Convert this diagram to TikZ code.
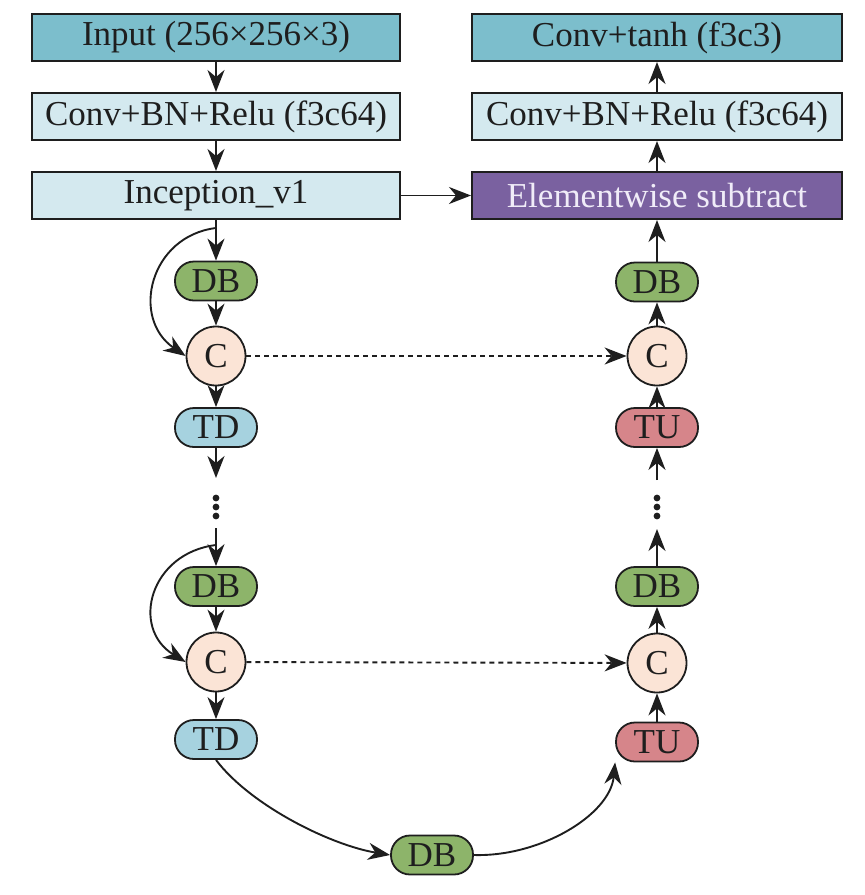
\documentclass[tikz,border=0pt]{standalone}
\usepackage{fontspec}
\setmainfont{Liberation Serif}
\usetikzlibrary{arrows.meta}
\definecolor{topbox}{RGB}{124,190,204}
\definecolor{lightbox}{RGB}{212,233,239}
\definecolor{subbox}{RGB}{122,97,160}
\definecolor{subtext}{RGB}{240,236,248}
\definecolor{dbcol}{RGB}{141,180,106}
\definecolor{ccol}{RGB}{251,228,214}
\definecolor{tdcol}{RGB}{166,210,223}
\definecolor{tucol}{RGB}{214,133,138}
\definecolor{ink}{RGB}{30,30,30}
\begin{document}
\begin{tikzpicture}[x=0.5pt,y=-0.5pt,
  every node/.style={font=\fontsize{17.5}{20}\selectfont, text=ink},
  box/.style={draw=ink, line width=1pt, minimum height=23.5pt, inner sep=0pt},
  lbox/.style={box, minimum width=184pt},
  rbox/.style={box, minimum width=185pt},
  pill/.style={draw=ink, line width=0.9pt, rounded corners=9.5pt, minimum width=41pt, minimum height=19.5pt, inner sep=0pt, font=\fontsize{17.5}{20}\selectfont},
  cnode/.style={draw=ink, line width=0.9pt, circle, fill=ccol, minimum size=29.5pt, inner sep=0pt, font=\fontsize{17.5}{20}\selectfont},
  conn/.style={draw=ink, line width=0.95pt, -{Stealth[length=11pt,width=8.5pt,inset=3.5pt]}},
  dconn/.style={conn, dash pattern=on 2.5pt off 2pt},
  dotc/.style={fill=ink}
]
\useasboundingbox (0,0) rectangle (864,895);
% left top boxes
\node[lbox, fill=topbox] (inp) at (216,37.5) {Input (256\texttimes256\texttimes3)};
\node[lbox, fill=lightbox] (cbl) at (216,116.5) {Conv+BN+Relu (f3c64)};
\node[lbox, fill=lightbox] (inc) at (216,195.5) {Inception\_v1};
% right top boxes
\node[rbox, fill=topbox] (tanh) at (657,37.5) {Conv+tanh (f3c3)};
\node[rbox, fill=lightbox] (cbr) at (657,116.5) {Conv+BN+Relu (f3c64)};
\node[rbox, fill=subbox, text=subtext] (sub) at (657,195.5) {Elementwise subtract};
% left column
\node[pill, fill=dbcol] (db1) at (216,281) {DB};
\node[cnode] (c1) at (216,356) {C};
\node[pill, fill=tdcol] (td1) at (216,427.5) {TD};
\node[pill, fill=dbcol] (db2) at (216,586.5) {DB};
\node[cnode] (c2) at (216,662) {C};
\node[pill, fill=tdcol] (td2) at (216,739.5) {TD};
% right column
\node[pill, fill=dbcol] (rdb1) at (657,282) {DB};
\node[cnode] (rc1) at (657,356) {C};
\node[pill, fill=tucol] (tu1) at (657,427.5) {TU};
\node[pill, fill=dbcol] (rdb2) at (657,586.5) {DB};
\node[cnode] (rc2) at (657,663) {C};
\node[pill, fill=tucol] (tu2) at (657,742) {TU};
% bottom
\node[pill, fill=dbcol] (bdb) at (432,855) {DB};
% coordinates
\coordinate (s1) at (216,228);
\coordinate (s2) at (216,545);
\coordinate (la) at (216,478);
\coordinate (lb) at (216,528);
\coordinate (ra) at (657,480);
\coordinate (rb) at (657,529);
% dots
\foreach \yy in {498,507,516}{
  \fill[dotc] (216,\yy) circle (1.7pt);
  \fill[dotc] (657,\yy) circle (1.7pt);
}
% left connectors
\draw[conn] (inp) -- (cbl);
\draw[conn] (cbl) -- (inc);
\draw[conn] (inc) -- (db1);
\draw[conn] (db1) -- (c1);
\draw[conn] (c1) -- (td1);
\draw[conn] (td1) -- (la);
\draw[conn] (lb) -- (db2);
\draw[conn] (db2) -- (c2);
\draw[conn] (c2) -- (td2);
\draw[conn] (s1) .. controls (150,236) and (130,318) .. (c1.west);
\draw[conn] (s2) .. controls (150,553) and (130,628) .. (c2.west);
% right connectors
\draw[conn] (cbr) -- (tanh);
\draw[conn] (sub) -- (cbr);
\draw[conn] (rdb1) -- (sub);
\draw[conn] (rc1) -- (rdb1);
\draw[conn] (tu1) -- (rc1);
\draw[conn] (ra) -- (tu1);
\draw[conn] (rdb2) -- (rb);
\draw[conn] (rc2) -- (rdb2);
\draw[conn] (tu2) -- (rc2);
% cross connectors
\draw[conn] (inc) -- (sub);
\draw[dconn] (c1) -- (rc1);
\draw[dconn] (c2) -- (rc2);
% bottom
\draw[conn] (td2.south) .. controls (250,805) and (330,845) .. (bdb.west);
\draw[conn] (bdb.east) .. controls (540,857) and (610,815) .. (tu2.south west);
\end{tikzpicture}
\end{document}
